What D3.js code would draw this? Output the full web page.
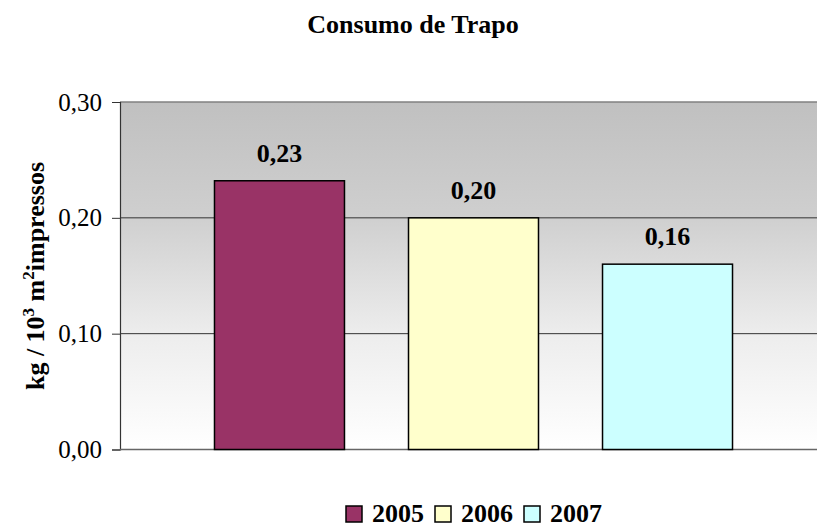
<!DOCTYPE html>
<html>
<head>
<meta charset="utf-8">
<script src="https://cdn.jsdelivr.net/npm/d3@7"></script>
<style>
  html, body { margin: 0; padding: 0; background: #fff; }
  svg { display: block; }
  text { font-family: "Liberation Serif", "Times New Roman", serif; }
</style>
</head>
<body>
<svg id="chart" width="817" height="525"></svg>
<script>
const series = ["2005", "2006", "2007"];
const values = [0.232, 0.200, 0.160];
const labels = ["0,23", "0,20", "0,16"];
const colors = ["#993366", "#ffffcc", "#ccffff"];
const yTicks = [0, 0.1, 0.2, 0.3];
const title = "Consumo de Trapo";

const svg = d3.select("#chart");
const plot = { left: 120, top: 102, right: 827, bottom: 449.5 };

const x = d3.scaleBand().domain(series).range([plot.left, plot.right])
  .paddingInner(0.33).paddingOuter(0.487);
const y = d3.scaleLinear().domain([0, 0.3]).range([plot.bottom, plot.top]);

const defs = svg.append("defs");
const grad = defs.append("linearGradient").attr("id", "bg")
  .attr("x1", 0).attr("y1", 0).attr("x2", 0).attr("y2", 1);
grad.append("stop").attr("offset", "0").attr("stop-color", "#c0c0c0");
grad.append("stop").attr("offset", "0.33").attr("stop-color", "#cfcfcf");
grad.append("stop").attr("offset", "0.67").attr("stop-color", "#ededed");
grad.append("stop").attr("offset", "1").attr("stop-color", "#ffffff");

svg.append("rect").attr("x", plot.left).attr("y", plot.top)
  .attr("width", plot.right - plot.left).attr("height", plot.bottom - plot.top)
  .attr("fill", "url(#bg)");

// top border
svg.append("line").attr("x1", plot.left).attr("x2", plot.right)
  .attr("y1", plot.top).attr("y2", plot.top)
  .attr("stroke", "#808080").attr("stroke-width", 1.5);

// gridlines
svg.append("g").selectAll("line").data(yTicks.filter(d => d > 0 && d < 0.3)).join("line")
  .attr("x1", plot.left).attr("x2", plot.right)
  .attr("y1", d => y(d)).attr("y2", d => y(d))
  .attr("stroke", "#333").attr("stroke-width", 1);

// y axis
const yAxis = d3.axisLeft(y).tickValues(yTicks).tickSize(8).tickPadding(10)
  .tickFormat(d => d3.format(".2f")(d).replace(".", ","));
const ga = svg.append("g").attr("transform", `translate(${plot.left},0)`).call(yAxis);
ga.select(".domain").attr("stroke", "#333").attr("stroke-width", 1.2);
ga.selectAll(".tick line").attr("stroke", "#333");
ga.selectAll(".tick text").attr("font-family", "Liberation Serif").attr("font-size", 25).attr("fill", "#000");

// x baseline
svg.append("line").attr("x1", plot.left).attr("x2", plot.right)
  .attr("y1", plot.bottom).attr("y2", plot.bottom)
  .attr("stroke", "#666").attr("stroke-width", 1.5);

// bars
svg.append("g").selectAll("rect").data(series).join("rect")
  .attr("x", d => x(d)).attr("width", x.bandwidth())
  .attr("y", (d, i) => y(values[i])).attr("height", (d, i) => y(0) - y(values[i]))
  .attr("fill", (d, i) => colors[i]).attr("stroke", "#000").attr("stroke-width", 1.5);

// data labels
svg.append("g").selectAll("text").data(series).join("text")
  .attr("x", d => x(d) + x.bandwidth() / 2).attr("y", (d, i) => y(values[i]) - 19)
  .attr("text-anchor", "middle").attr("font-weight", "bold").attr("font-size", 26)
  .text((d, i) => labels[i]);

// title
svg.append("text").attr("x", 413).attr("y", 33).attr("text-anchor", "middle")
  .attr("font-weight", "bold").attr("font-size", 26).text(title);

// y label
const yl = svg.append("text").attr("transform", "translate(44,276) rotate(-90)")
  .attr("text-anchor", "middle").attr("font-weight", "bold").attr("font-size", 26);
yl.append("tspan").text("kg / 10");
yl.append("tspan").attr("font-size", 17).attr("dy", -10).text("3");
yl.append("tspan").attr("dy", 10).text(" m");
yl.append("tspan").attr("font-size", 17).attr("dy", -10).text("2");
yl.append("tspan").attr("dy", 10).text("impressos");

// legend
const lg = svg.append("g");
series.forEach((s, i) => {
  const g = lg.append("g").attr("transform", `translate(${346 + i * 89},0)`);
  g.append("rect").attr("x", 0).attr("y", 506).attr("width", 16).attr("height", 16)
    .attr("fill", colors[i]).attr("stroke", "#000").attr("stroke-width", 1.5);
  g.append("text").attr("x", 26).attr("y", 522).attr("font-weight", "bold")
    .attr("font-size", 26).text(s);
});
</script>
</body>
</html>
